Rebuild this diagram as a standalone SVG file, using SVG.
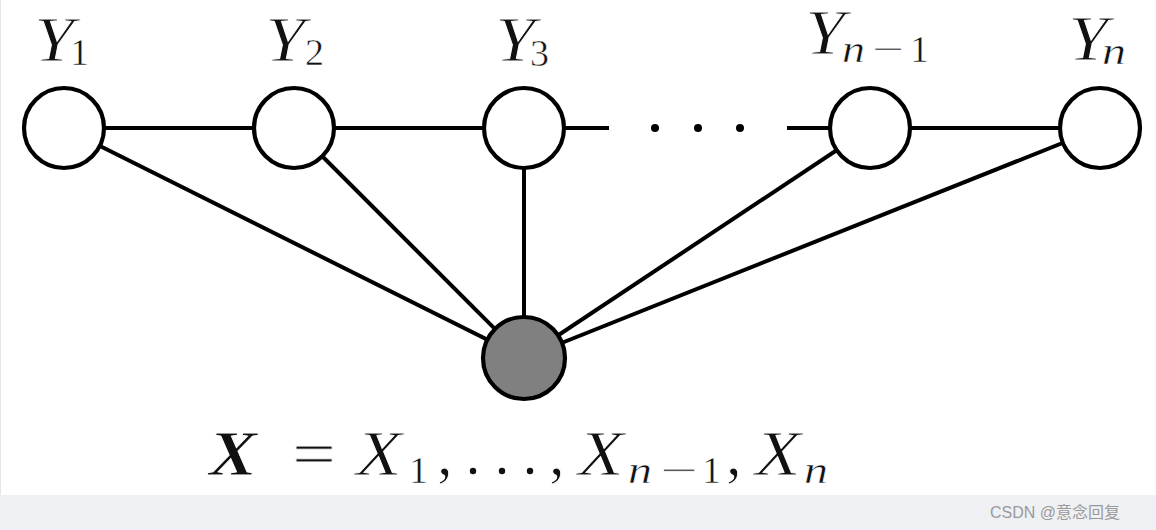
<svg xmlns="http://www.w3.org/2000/svg" width="1156" height="530" viewBox="0 0 1156 530">
<style>
.edge{stroke:#000;stroke-width:4;fill:none}
.node{stroke:#000;stroke-width:4.2;fill:#fff}
.obs{stroke:#000;stroke-width:4.2;fill:#808080}
.m{font-family:"Liberation Serif","DejaVu Serif",serif;font-style:italic;fill:#111}
.r{font-family:"Liberation Serif","DejaVu Serif",serif;fill:#111}
.big{font-size:63px;stroke:#fff;stroke-width:0.9}
.sub{font-size:38px;stroke:#fff;stroke-width:0.5}
.wm{font-family:"Liberation Sans","Noto Sans CJK SC",sans-serif;font-size:16px;fill:#9a9a9a}
</style>
<rect x="0" y="0" width="1156" height="530" fill="#fff"/>
<rect x="0" y="495" width="1156" height="35" fill="#eef0f4"/>
<line x1="0.5" y1="0" x2="0.5" y2="495" stroke="#e6e6e6" stroke-width="1"/>
<g id="connectors">
<line class="edge" x1="64" y1="128" x2="294" y2="128"/>
<line class="edge" x1="294" y1="128" x2="524" y2="128"/>
<line class="edge" x1="524" y1="128" x2="609" y2="128"/>
<line class="edge" x1="787" y1="128" x2="870" y2="128"/>
<line class="edge" x1="870" y1="128" x2="1100" y2="128"/>
<line class="edge" x1="64" y1="128" x2="524" y2="358"/>
<line class="edge" x1="294" y1="128" x2="524" y2="358"/>
<line class="edge" x1="524" y1="128" x2="524" y2="358"/>
<line class="edge" x1="870" y1="128" x2="524" y2="358"/>
<line class="edge" x1="1100" y1="128" x2="524" y2="358"/>
<circle cx="655" cy="128" r="4" fill="#000"/>
<circle cx="698" cy="128" r="4" fill="#000"/>
<circle cx="740" cy="128" r="4" fill="#000"/>
</g>
<g id="Y1">
<circle class="node" cx="64" cy="128" r="40"/>
<text class="m big" x="34" y="61" textLength="40" lengthAdjust="spacingAndGlyphs">Y</text>
<text class="r sub" x="70" y="65">1</text>
</g>
<g id="Y2">
<circle class="node" cx="294" cy="128" r="40"/>
<text class="m big" x="265" y="61" textLength="40" lengthAdjust="spacingAndGlyphs">Y</text>
<text class="r sub" x="305" y="65">2</text>
</g>
<g id="Y3">
<circle class="node" cx="524" cy="128" r="40"/>
<text class="m big" x="495" y="61" textLength="40" lengthAdjust="spacingAndGlyphs">Y</text>
<text class="r sub" x="530" y="66">3</text>
</g>
<g id="Yn-1">
<circle class="node" cx="870" cy="128" r="40"/>
<text class="m big" x="805" y="54" font-size="61" textLength="40" lengthAdjust="spacingAndGlyphs">Y</text>
<text class="m sub" x="842" y="62" textLength="23" lengthAdjust="spacingAndGlyphs">n</text>
<text class="r sub" x="872" y="62" textLength="32" lengthAdjust="spacingAndGlyphs">−</text>
<text class="r sub" x="910" y="62">1</text>
</g>
<g id="Yn">
<circle class="node" cx="1100" cy="128" r="40"/>
<text class="m big" x="1068" y="60" textLength="40" lengthAdjust="spacingAndGlyphs">Y</text>
<text class="m sub" x="1102" y="64" textLength="24" lengthAdjust="spacingAndGlyphs">n</text>
</g>
<g id="X">
<circle class="obs" cx="524" cy="358" r="41"/>
<text class="m big" x="209" y="475" font-weight="bold" textLength="48" lengthAdjust="spacingAndGlyphs">X</text>
<text class="r big" x="292" y="475" textLength="44" lengthAdjust="spacingAndGlyphs">=</text>
<text class="m big" x="356" y="475" textLength="46" lengthAdjust="spacingAndGlyphs">X</text>
<text class="r sub" x="409" y="483">1</text>
<text class="r big" x="437" y="475">,</text>
<circle cx="473" cy="471" r="3.2" fill="#111"/>
<circle cx="502" cy="471" r="3.2" fill="#111"/>
<circle cx="530" cy="471" r="3.2" fill="#111"/>
<text class="r big" x="549" y="475">,</text>
<text class="m big" x="578" y="475" textLength="46" lengthAdjust="spacingAndGlyphs">X</text>
<text class="m sub" x="628" y="483" textLength="24" lengthAdjust="spacingAndGlyphs">n</text>
<text class="r sub" x="660" y="483" textLength="38" lengthAdjust="spacingAndGlyphs">−</text>
<text class="r sub" x="702" y="483">1</text>
<text class="r big" x="726" y="475">,</text>
<text class="m big" x="755" y="475" textLength="46" lengthAdjust="spacingAndGlyphs">X</text>
<text class="m sub" x="804" y="483" textLength="24" lengthAdjust="spacingAndGlyphs">n</text>
</g>
<text class="wm" x="990" y="518">CSDN @意念回复</text>
</svg>
